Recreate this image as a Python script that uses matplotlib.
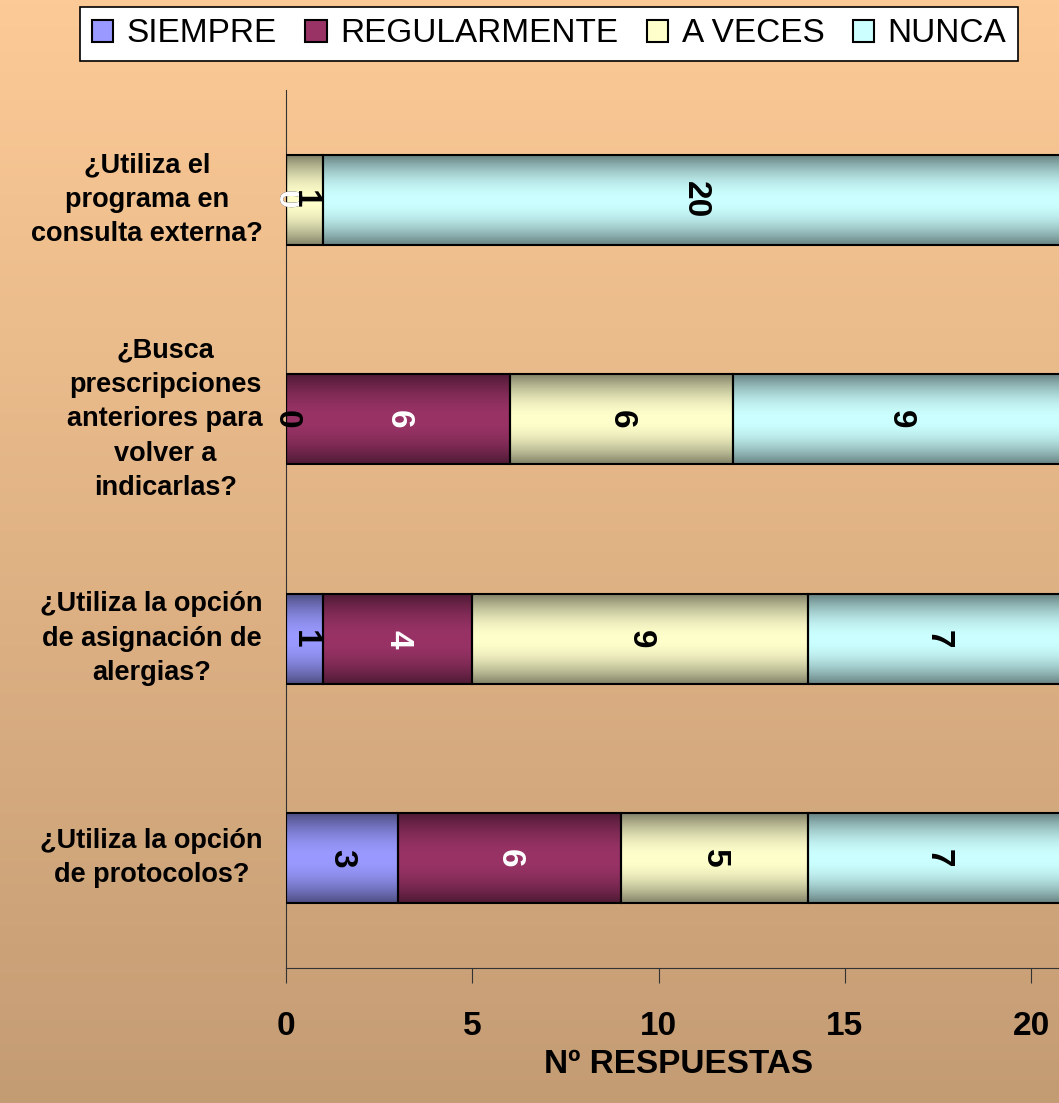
import numpy as np
import matplotlib
matplotlib.use("Agg")
import matplotlib.pyplot as plt
from matplotlib.patches import Patch
from matplotlib.transforms import blended_transform_factory

plt.rcParams['font.family'] = ['Liberation Sans', 'DejaVu Sans']

# datos (de abajo hacia arriba)
preguntas = ["¿Utiliza la opción\nde protocolos?",
             "¿Utiliza la opción\nde asignación de\nalergias?",
             "¿Busca\nprescripciones\nanteriores para\nvolver a\nindicarlas?",
             "¿Utiliza el\nprograma en\nconsulta externa?"]
series = ["SIEMPRE", "REGULARMENTE", "A VECES", "NUNCA"]
siempre = [3, 1, 0, 0]
regularmente = [6, 4, 6, 0]
a_veces = [5, 9, 6, 1]
nunca = [7, 7, 9, 20]
valores = [siempre, regularmente, a_veces, nunca]

colores = [(0.60, 0.60, 1.00), (0.60, 0.20, 0.40), (1.00, 1.00, 0.80), (0.80, 1.00, 1.00)]
color_texto = ["black", "white", "black", "black"]

W, H = 1059, 1103
fig = plt.figure(figsize=(W / 100, H / 100), dpi=100)

# fondo degradado
bg = fig.add_axes([0, 0, 1, 1], zorder=-10)
top = np.array([252, 202, 150]) / 255.0
bot = np.array([196, 156, 116]) / 255.0
t = np.linspace(0, 1, 256)[:, None, None]
grad = top * (1 - t) + bot * t
bg.imshow(grad, aspect='auto', extent=[0, 1, 0, 1], origin='upper')
bg.axis('off')

ax = fig.add_axes([286 / W, (H - 968) / H, (W - 286) / W, (968 - 90) / H])
ax.patch.set_alpha(0)

alto = 0.41
tt = np.linspace(0, 1, 200)
fac = 0.5 + 0.5 * np.sin(np.pi * tt) ** 0.9

izq = np.zeros(len(preguntas))
for k, (nombre, vals) in enumerate(zip(series, valores)):
    vals = np.array(vals, dtype=float)
    c = np.array(colores[k])
    g = (c[None, :] * fac[:, None])[:, None, :]
    for i, v in enumerate(vals):
        y0 = i - alto / 2
        if v > 0:
            ax.imshow(g, aspect='auto', extent=[izq[i], izq[i] + v, y0, y0 + alto],
                      origin='upper', zorder=2, interpolation='bilinear')
        ax.barh(i, v, left=izq[i], height=alto, facecolor='none',
                edgecolor='black', linewidth=1.5, zorder=3)
        ax.text(izq[i] + v / 2, i, "%d" % v, rotation=-90, ha='center', va='center',
                fontsize=24, fontweight='bold', color=color_texto[k], zorder=5)
    izq += vals

ax.set_xlim(0, 20.75)
ax.set_ylim(-0.5, 3.5)

for s in ['top', 'right']:
    ax.spines[s].set_visible(False)
ax.spines['left'].set_color('#333333')
ax.spines['bottom'].set_color('#333333')
ax.set_xticks([0, 5, 10, 15, 20])
ax.tick_params(axis='x', length=11, direction='out', pad=20, labelsize=24, color='#333333')
for lb in ax.get_xticklabels():
    lb.set_fontweight('bold')
ax.set_yticks([])

tr = blended_transform_factory(fig.transFigure, ax.transData)
for i, q in enumerate(preguntas):
    ax.text(263 / W, i, q, transform=tr, ha='right', va='center', multialignment='center',
            fontsize=19.5, fontweight='bold', linespacing=1.42)

ax.set_xlabel("Nº RESPUESTAS", fontsize=24, fontweight='bold')
ax.xaxis.set_label_coords((678 - 286) / (W - 286), -0.092)

handles = [Patch(facecolor=colores[k], edgecolor='black', linewidth=1.5) for k in range(4)]
leg = fig.legend(handles, series, loc='center', ncol=4, bbox_to_anchor=(549 / W, 1 - 34 / H),
                 fontsize=24, frameon=True, fancybox=False, edgecolor='black',
                 handlelength=0.65, handleheight=0.65, handletextpad=0.4,
                 columnspacing=0.85, borderpad=0.35, borderaxespad=0)
leg.get_frame().set_linewidth(1.2)
leg.get_frame().set_facecolor('white')
leg.get_frame().set_alpha(1)

fig.savefig("out.png", dpi=100)
